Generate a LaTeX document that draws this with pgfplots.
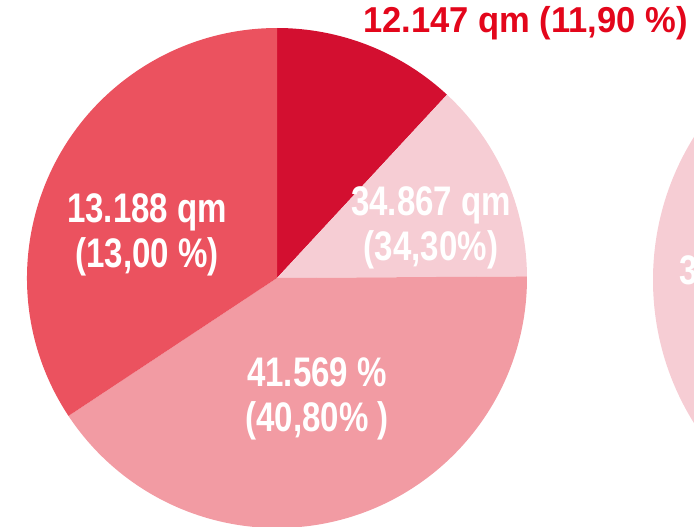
\documentclass[border=0pt]{standalone}
\usepackage{pgfplots}
\usepackage{pgfplotstable}
\pgfplotsset{compat=1.18}
\usepackage{fontspec}
\setmainfont{Liberation Sans}
\newfontfamily\cond{Liberation Sans}[FakeStretch=0.80]
\newfontfamily\condt{Liberation Sans}[FakeStretch=0.96]

\definecolor{slice0}{HTML}{D30F30}
\definecolor{slice1}{HTML}{F6CDD4}
\definecolor{slice2}{HTML}{F29BA3}
\definecolor{slice3}{HTML}{EB525F}
\definecolor{titlered}{HTML}{E3061B}

% slice shares in percent, clockwise from 12 o'clock
\pgfplotstableread{
share
11.90
13.00
40.80
34.30
}\piedata

\begin{document}
\begin{tikzpicture}
\begin{axis}[name=pie, x=0.75pt, y=0.75pt, xmin=0, xmax=694, ymin=0, ymax=526,
  hide axis, clip=true]
  % second pie, mostly outside the picture
  \fill[slice1] (axis cs:923,246) circle[radius=202.5pt];
  \def\startangle{90}
  \pgfplotsforeachungrouped \i in {0,1,2,3}{%
    \pgfplotstablegetelem{\i}{share}\of\piedata
    \pgfmathsetmacro\endangle{\startangle-3.6*\pgfplotsretval}
    \edef\temp{\noexpand\fill[slice\i] (axis cs:277,248) -- ++(\startangle:187.5pt)
      arc[start angle=\startangle, end angle=\endangle, radius=187.5pt] -- cycle;}
    \temp
    \global\let\startangle\endangle
  }
  \node[white, align=center, font=\cond\bfseries\fontsize{31}{34}\selectfont]
    at (axis cs:147,291) {13.188 qm\\(13,00 \%)};
  \node[white, align=center, font=\cond\bfseries\fontsize{31}{34}\selectfont]
    at (axis cs:431,298) {34.867 qm\\(34,30\%)};
  \node[white, align=center, font=\cond\bfseries\fontsize{31}{34}\selectfont]
    at (axis cs:317,127) {41.569 \%\\(40,80\% )};
  \node[white, anchor=west, inner sep=0pt, font=\cond\bfseries\fontsize{31}{34}\selectfont]
    at (axis cs:679,256) {3};
  \node[titlered, anchor=east, inner sep=0pt, font=\condt\bfseries\fontsize{27}{30}\selectfont]
    at (axis cs:688,503) {12.147 qm (11,90 \%)};
\end{axis}
\pgfresetboundingbox
\useasboundingbox (pie.south west) rectangle (pie.north east);
\end{tikzpicture}
\end{document}
